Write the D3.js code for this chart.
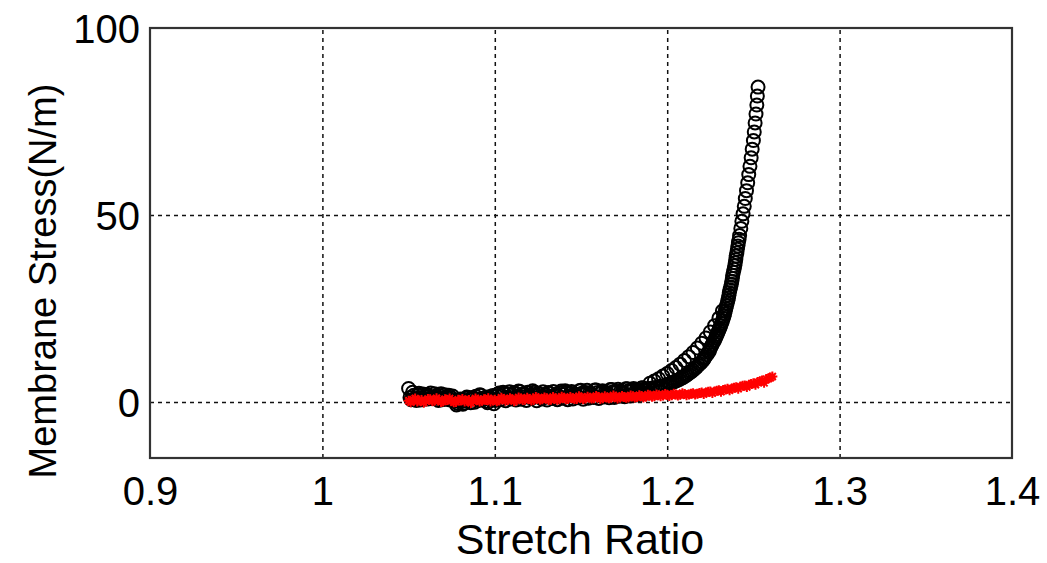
<!DOCTYPE html>
<html><head><meta charset="utf-8">
<script src="https://cdn.jsdelivr.net/npm/d3@7"></script>
<style>
body{margin:0;background:#fff;}
text{font-family:"Liberation Sans",Arial,sans-serif;}
</style></head>
<body><svg id="c" width="1047" height="563"></svg>
<script>
// ---- data ----
const xTicks = [0.9, 1.0, 1.1, 1.2, 1.3, 1.4];
const xTickLabels = ["0.9", "1", "1.1", "1.2", "1.3", "1.4"];
const yTicks = [0, 50, 100];
const yTickLabels = ["0", "50", "100"];
const xLabel = "Stretch Ratio";
const yLabel = "Membrane Stress(N/m)";

// black circles (stretch ratio, stress)
const blackX = [1.0500,1.0515,1.053,1.0545,1.056,1.0575,1.059,1.0605,1.062,1.0635,1.065,1.0665,1.068,1.0695,1.071,1.0725,1.074,1.0755,1.077,1.0785,1.080,1.0815,1.083,1.0845,1.086,1.0875,1.089,1.0905,1.092,1.0935,1.095,1.0965,1.098,1.0995,1.101,1.1025,1.104,1.1055,1.107,1.1085,1.110,1.1115,1.113,1.1145,1.116,1.1175,1.119,1.1205,1.122,1.1235,1.125,1.1265,1.128,1.1295,1.131,1.1325,1.134,1.1355,1.137,1.1385,1.140,1.1415,1.143,1.1445,1.146,1.1475,1.149,1.1505,1.152,1.1535,1.155,1.1565,1.158,1.1595,1.161,1.1625,1.164,1.1655,1.167,1.1685,1.170,1.1715,1.173,1.1745,1.176,1.1775,1.179,1.1805,1.182,1.1835,1.185,1.1865,1.188,
1.190,1.193,1.196,1.199,1.201,1.203,1.205,1.207,1.209,1.211,1.213,1.215,1.217,1.219,1.221,1.222,1.224,1.225,1.226,1.2275,1.2285,1.2295,1.2305,1.2315,1.2325,1.2333,1.234,1.2348,1.2355,1.236,1.2368,1.2375,1.238,1.2388,1.2395,1.240,1.2407,1.2413,1.242,1.2427,1.2433,1.244,1.2447,1.2453,1.246,1.2467,1.2473,1.248,1.2487,1.2493,1.250,1.2505,1.251,1.2515,1.252,1.2523,1.2527,
1.0508,1.0523,1.0538,1.0553,1.0568,1.0583,1.0598,1.0613,1.0628,1.0643,1.0658,1.0673,1.0688,1.0703,1.0718,1.0733,1.0748,1.0763,1.0778,1.0793,1.0808,1.0823,1.0838,1.0853,1.0868,1.0883,1.0898,1.0913,1.0928,1.0943,1.0958,1.0973,1.0988,1.1003,1.1018,1.1033,1.1048,1.1063,1.1078,1.1093,1.1108,1.1123,1.1138,1.1153,1.1168,1.1183,1.1198,1.1213,1.1228,1.1243,1.1258,1.1273,1.1288,1.1303,1.1318,1.1333,1.1348,1.1363,1.1378,1.1393,1.1408,1.1423,1.1438,1.1453,1.1468,1.1483,1.1498,1.1513,1.1528,1.1543,1.1558,1.1573,1.1588,1.1603,1.1618,1.1633,1.1648,1.1663,1.1678,1.1693,1.1708,1.1723,1.1738,1.1753,1.1768,1.1783,1.1798,1.1813,1.1828,1.1843,1.1858,1.1873,1.1888,
1.1915,1.1945,1.1975,1.200,1.202,1.204,1.206,1.208,1.210,1.212,1.214,1.216,1.218,1.220,1.2215,1.223,1.2245,1.2255,1.2268,1.228,1.229,1.230,1.231,1.232,1.2329,1.2337,1.2344,1.2352,1.2358,1.2364,1.2372,1.2378,1.2384,1.2392,1.2398,1.2404,1.241,1.2417,
1.1900,1.1925,1.195,1.1975,1.200,1.2025,1.205,1.2075,1.210,1.2125,1.215,1.2175,1.220,1.2225,1.225,1.2275,1.230,1.232];
const blackY = [3.6,0.6,1.8,0.4,2.3,1.2,0.7,2.0,1.5,0.9,2.2,1.0,1.7,0.6,1.9,1.3,0.5,1.6,0.2,-0.4,0.8,-0.6,0.3,1.1,-0.2,0.9,1.5,0.4,1.8,0.9,0.2,1.4,0.6,-0.5,1.6,2.4,1.5,2.3,1.2,2.7,1.9,2.5,1.4,2.8,2.0,1.4,2.6,1.8,3.0,1.7,2.4,1.3,2.7,1.9,2.5,1.5,2.8,2.1,1.6,2.9,2.0,2.6,1.6,2.8,2.2,1.8,3.0,2.3,1.9,3.1,2.4,2.0,3.2,2.5,2.2,3.0,2.6,2.3,3.3,2.7,2.5,3.4,2.9,2.6,3.5,3.0,2.8,3.6,3.2,3.0,3.7,3.4,3.3,
3.5,3.8,4.1,4.4,4.8,5.2,5.6,6.0,6.5,7.1,7.8,8.5,9.3,10.2,11.2,12.0,13.2,14.3,15.3,16.5,17.6,18.7,19.8,21.0,22.3,23.6,25.0,26.4,27.8,29.2,30.7,32.3,33.9,35.5,37.2,39.0,40.8,42.6,44.5,46.4,48.3,50.3,52.3,54.4,56.5,58.6,60.8,63.0,65.3,67.6,69.9,72.2,74.6,77.0,79.4,81.8,84.2,
1.2,2.6,0.9,1.9,0.5,2.1,1.4,0.8,2.4,1.1,1.6,0.4,2.2,1.0,0.7,1.8,1.1,0.3,-0.8,0.5,0.2,-0.3,1.3,0.6,1.2,-0.1,0.8,1.9,0.5,1.2,-0.2,1.0,1.7,
0.4,2.1,0.6,2.6,0.3,2.1,0.8,2.4,0.5,2.9,0.7,2.2,0.4,1.5,0.9,2.6,0.3,2.1,0.8,1.4,0.5,2.3,0.9,1.8,0.6,2.4,1.0,3.0,0.6,2.3,0.8,2.0,1.1,3.1,0.7,2.5,1.0,2.1,1.2,3.2,0.9,2.6,1.3,2.3,1.1,3.3,1.2,2.8,1.5,2.5,1.4,3.5,1.6,3.3,1.8,3.0,2.0,3.8,2.3,3.6,
3.7,4.0,4.3,4.6,5.0,5.4,5.8,6.3,6.8,7.4,8.1,8.9,9.8,10.7,11.6,12.6,13.7,14.8,15.9,17.1,18.1,19.2,20.4,21.6,22.9,24.3,25.7,27.1,28.5,30.0,31.5,33.1,34.7,36.4,38.1,39.9,41.7,43.5,
5.0,5.6,6.2,6.9,7.6,8.4,9.2,10.1,11.1,12.1,13.2,14.4,15.7,17.1,18.7,20.4,22.4,24.3];

// red asterisks (stretch ratio, stress)
const redX = [1.050,1.0525,1.055,1.0575,1.060,1.0625,1.065,1.0675,1.070,1.0725,1.075,1.0775,1.080,1.0825,1.085,1.0875,1.090,1.0925,1.095,1.0975,1.100,1.1025,1.105,1.1075,1.110,1.1125,1.115,1.1175,1.120,1.1225,1.125,1.1275,1.130,1.1325,1.135,1.1375,1.140,1.1425,1.145,1.1475,1.150,1.1525,1.155,1.1575,1.160,1.1625,1.165,1.1675,1.170,1.1725,1.175,1.1775,1.180,1.1825,1.185,1.1875,1.190,1.1925,1.195,1.1975,1.200,1.2025,1.205,1.2075,1.210,1.2125,1.215,1.2175,1.220,1.2225,1.225,1.2275,1.230,1.2325,1.235,1.2375,1.240,1.2425,1.245,1.2475,1.250,1.2525,1.255,1.2575,1.260,1.261,
1.0512,1.0538,1.0562,1.0588,1.0612,1.0638,1.0662,1.0688,1.0712,1.0738,1.0762,1.0788,1.0812,1.0838,1.0862,1.0888,1.0912,1.0938,1.0962,1.0988,1.1012,1.1038,1.1062,1.1088,1.1112,1.1138,1.1162,1.1188,1.1212,1.1238,1.1262,1.1288,1.1312,1.1338,1.1362,1.1388,1.1412,1.1438,1.1462,1.1488,1.1512,1.1538,1.1562,1.1588,1.1612,1.1638,1.1662,1.1688,1.1712,1.1738,1.1762,1.1788,1.1812,1.1838,1.1862,1.1888,1.1912,1.1938,1.1962,1.1988,1.2012,1.2038,1.2062,1.2088,1.2112,1.2138,1.2162,1.2188,1.2212,1.2238,1.2262,1.2288,1.2312,1.2338,1.2362,1.2388,1.2412,1.2438,1.2462,1.2488,1.2512,1.2538,1.2562,1.2588];
const redY = [0.3,0.6,0.1,0.5,0.2,0.7,0.3,0.6,0.1,0.5,0.3,0.0,0.4,0.1,0.5,0.2,0.6,0.3,0.5,0.1,0.6,0.4,0.8,0.5,0.7,0.4,0.9,0.6,0.8,0.5,0.9,0.7,1.0,0.6,0.9,0.7,1.1,0.8,1.0,0.8,1.2,0.9,1.1,1.0,1.3,1.0,1.2,1.1,1.4,1.2,1.3,1.2,1.5,1.3,1.6,1.4,1.7,1.5,1.8,1.7,1.9,1.8,2.0,1.9,2.1,2.0,2.3,2.2,2.5,2.5,2.8,2.8,3.1,3.2,3.5,3.6,3.9,4.1,4.4,4.6,5.0,5.3,5.7,6.1,6.5,6.8,
-0.1,0.9,0.4,-0.2,0.8,0.2,1.0,0.0,0.7,0.9,-0.1,0.6,0.8,0.3,-0.3,0.9,0.1,0.7,1.0,0.4,0.2,1.1,0.3,1.0,0.2,1.2,0.5,1.1,0.4,1.3,0.6,1.2,0.5,1.3,0.6,1.4,0.7,1.3,0.8,1.5,0.7,1.4,0.9,1.6,0.8,1.5,1.0,1.7,0.9,1.6,1.1,1.7,1.2,1.8,1.2,1.9,1.4,2.0,1.5,2.1,1.6,2.2,1.7,2.3,1.8,2.2,2.0,2.4,2.1,2.7,2.4,3.0,2.7,3.3,3.1,3.8,3.5,4.3,4.0,4.8,4.6,5.5,5.1,6.3];

// ---- chart ----
const svg = d3.select("#c");
const L = 150, R = 1012, T = 28, B = 458;
const x = d3.scaleLinear().domain([0.9, 1.4]).range([L, R]);
const y = d3.scaleLinear().domain([-15, 100]).range([B, T]);

// grid (dashed)
const gx = svg.append("g").attr("transform", `translate(0,${B})`)
  .call(d3.axisBottom(x).tickValues(xTicks).tickSize(-(B - T)).tickFormat(""));
gx.select(".domain").remove();
gx.selectAll("line").attr("stroke", "#111").attr("stroke-width", 1.5).attr("stroke-dasharray", "4,4")
  .filter(d => d === 0.9 || d === 1.4).remove();
const gy = svg.append("g").attr("transform", `translate(${L},0)`)
  .call(d3.axisLeft(y).tickValues(yTicks).tickSize(-(R - L)).tickFormat(""));
gy.select(".domain").remove();
gy.selectAll("line").attr("stroke", "#111").attr("stroke-width", 1.5).attr("stroke-dasharray", "4,4")
  .filter(d => d === 100).remove();

// box
svg.append("rect").attr("x", L).attr("y", T).attr("width", R - L).attr("height", B - T)
  .attr("fill", "none").attr("stroke", "#333").attr("stroke-width", 2.2);

// tick labels
const xl = svg.append("g").attr("transform", `translate(0,${B})`)
  .call(d3.axisBottom(x).tickValues(xTicks).tickSize(0).tickPadding(0)
    .tickFormat((d, i) => xTickLabels[i]));
xl.select(".domain").remove();
xl.selectAll("text").attr("font-size", 40).attr("fill", "#000")
  .attr("font-family", "'Liberation Sans',Arial,sans-serif")
  .attr("dy", null).attr("y", 47);
const yl = svg.append("g").attr("transform", `translate(${L},0)`)
  .call(d3.axisLeft(y).tickValues(yTicks).tickSize(0).tickPadding(10)
    .tickFormat((d, i) => yTickLabels[i]));
yl.select(".domain").remove();
yl.selectAll("text").attr("font-size", 40).attr("fill", "#000")
  .attr("font-family", "'Liberation Sans',Arial,sans-serif")
  .attr("dy", "0.36em");

// axis labels
svg.append("text").attr("x", 580).attr("y", 554).attr("text-anchor", "middle")
  .attr("font-size", 43).text(xLabel);
svg.append("text").attr("transform", "translate(56,281) rotate(-90)").attr("text-anchor", "middle")
  .attr("font-size", 38).text(yLabel);

// black circles
const plot = svg.append("g");
plot.selectAll("circle.b").data(blackX.map((v, i) => [v, blackY[i]])).enter()
  .append("circle").attr("class", "b")
  .attr("cx", d => x(d[0])).attr("cy", d => y(d[1])).attr("r", 6.5)
  .attr("fill", "none").attr("stroke", "#000").attr("stroke-width", 2);

// red asterisks
const star = "M-5,0L5,0M0,-5L0,5M-3.5,-3.5L3.5,3.5M-3.5,3.5L3.5,-3.5";
plot.selectAll("path.r").data(redX.map((v, i) => [v, redY[i]])).enter()
  .append("path").attr("class", "r").attr("d", star)
  .attr("transform", d => `translate(${x(d[0])},${y(d[1])})`)
  .attr("fill", "none").attr("stroke", "#f00").attr("stroke-width", 2);
</script></body></html>
